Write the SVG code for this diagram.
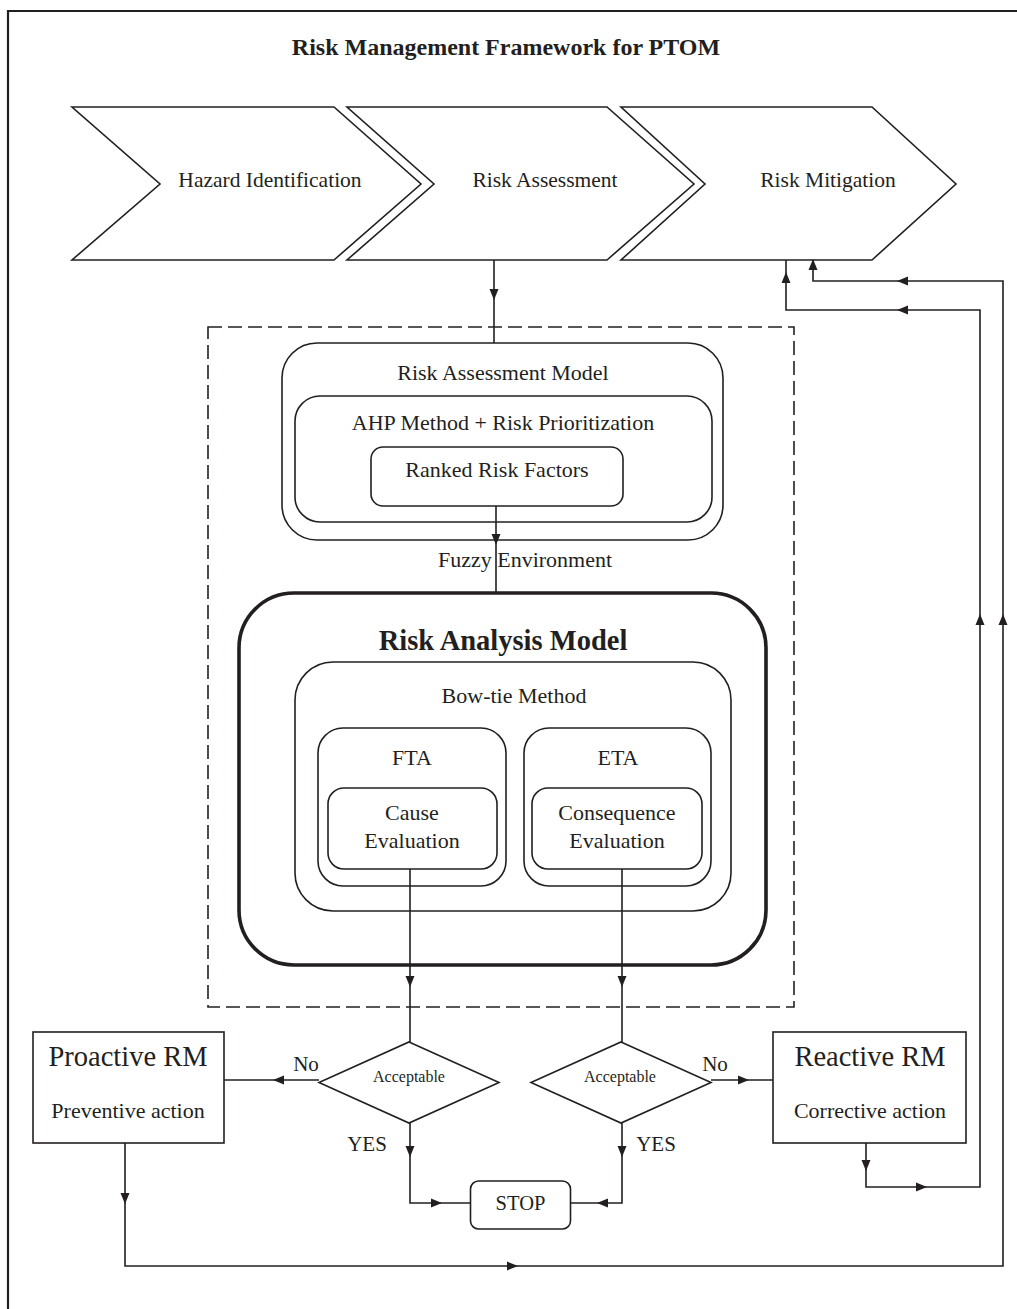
<svg xmlns="http://www.w3.org/2000/svg" xmlns:xlink="http://www.w3.org/1999/xlink" width="1017" height="1309" viewBox="0 0 1017 1309">
  <style>
    .ln { fill: none; stroke: #231f20; stroke-width: 1.6; }
    .box { fill: none; stroke: #231f20; stroke-width: 1.6; }
    .thick { fill: none; stroke: #231f20; stroke-width: 3.6; }
    .dash { fill: none; stroke: #231f20; stroke-width: 1.6; stroke-dasharray: 14 6; }
    .t { font-family: "Liberation Serif", "Times New Roman", serif; fill: #231f20; text-anchor: middle; }
    .ah { fill: #231f20; }
  </style>
  <defs>
    <!-- arrowhead pointing right, tip at origin -->
    <path id="ah" class="ah" d="M0,0 L-11,-4.5 L-11,4.5 Z"/>
  </defs>
  <rect width="1017" height="1309" fill="#ffffff"/>

  <!-- outer frame (open to the right and bottom) -->
  <path d="M8,1309 V11 H1017" fill="none" stroke="#231f20" stroke-width="2.2"/>

  <text class="t" x="506" y="55" font-size="24" font-weight="bold">Risk Management Framework for PTOM</text>

  <!-- process chevrons -->
  <g id="hazard-identification">
    <polygon class="box" points="72,107 334,107 421,184 334,260 72,260 160,184"/>
    <text class="t" x="270" y="187" font-size="21.5">Hazard Identification</text>
  </g>
  <g id="risk-assessment">
    <polygon class="box" points="347,107 607,107 694,184 607,260 347,260 434,184"/>
    <text class="t" x="545" y="187" font-size="21.5">Risk Assessment</text>
  </g>
  <g id="risk-mitigation">
    <polygon class="box" points="621,107 872,107 956,184 872,260 621,260 705,184"/>
    <text class="t" x="828" y="187" font-size="21.5">Risk Mitigation</text>
  </g>

  <!-- dashed boundary of the fuzzy environment -->
  <g id="fuzzy-environment">
    <rect class="dash" x="208" y="327" width="586" height="680"/>
    <text class="t" x="525" y="567" font-size="22">Fuzzy Environment</text>
  </g>

  <g id="risk-assessment-model">
    <rect class="box" x="282" y="343" width="441" height="197" rx="35"/>
    <text class="t" x="503" y="380" font-size="22">Risk Assessment Model</text>
  </g>
  <g id="ahp-method">
    <rect class="box" x="295" y="396" width="417" height="126" rx="25"/>
    <text class="t" x="503" y="430" font-size="22">AHP Method + Risk Prioritization</text>
  </g>
  <g id="ranked-risk-factors">
    <rect class="box" x="371" y="447" width="252" height="59" rx="12"/>
    <text class="t" x="497" y="477" font-size="22">Ranked Risk Factors</text>
  </g>

  <g id="risk-analysis-model">
    <rect class="thick" x="239" y="593" width="527" height="372" rx="55"/>
    <text class="t" x="503" y="650" font-size="28.5" font-weight="bold">Risk Analysis Model</text>
  </g>
  <g id="bow-tie-method">
    <rect class="box" x="295" y="662" width="436" height="249" rx="38"/>
    <text class="t" x="514" y="703" font-size="22">Bow-tie Method</text>
  </g>
  <g id="fta">
    <rect class="box" x="318" y="728" width="188" height="158" rx="25"/>
    <text class="t" x="412" y="765" font-size="22">FTA</text>
  </g>
  <g id="cause-evaluation">
    <rect class="box" x="328" y="788" width="169" height="81" rx="16"/>
    <text class="t" x="412" y="820" font-size="22">Cause</text>
    <text class="t" x="412" y="848" font-size="22">Evaluation</text>
  </g>
  <g id="eta">
    <rect class="box" x="524" y="728" width="187" height="158" rx="25"/>
    <text class="t" x="618" y="765" font-size="22">ETA</text>
  </g>
  <g id="consequence-evaluation">
    <rect class="box" x="532" y="788" width="170" height="81" rx="16"/>
    <text class="t" x="617" y="820" font-size="22">Consequence</text>
    <text class="t" x="617" y="848" font-size="22">Evaluation</text>
  </g>

  <g id="acceptable-left">
    <polygon class="box" points="409,1042 499,1082.5 409,1123 319,1082.5"/>
    <text class="t" x="409" y="1082" font-size="16">Acceptable</text>
  </g>
  <g id="acceptable-right">
    <polygon class="box" points="621,1042 711,1082.5 621,1123 531,1082.5"/>
    <text class="t" x="620" y="1082" font-size="16">Acceptable</text>
  </g>

  <g id="proactive-rm">
    <rect class="box" x="33" y="1032" width="191" height="111"/>
    <text class="t" x="128" y="1066" font-size="28.5">Proactive RM</text>
    <text class="t" x="128" y="1118" font-size="22">Preventive action</text>
  </g>
  <g id="reactive-rm">
    <rect class="box" x="773" y="1032" width="193" height="111"/>
    <text class="t" x="870" y="1066" font-size="28.5">Reactive RM</text>
    <text class="t" x="870" y="1118" font-size="22">Corrective action</text>
  </g>

  <g id="stop">
    <rect class="box" x="470.5" y="1181" width="100" height="48" rx="8"/>
    <text class="t" x="520.5" y="1210" font-size="20.5">STOP</text>
  </g>

  <!-- connectors -->
  <g id="connectors">
    <path class="ln" d="M494,260 V343"/>
    <use xlink:href="#ah" transform="translate(494,300) rotate(90)"/>

    <path class="ln" d="M496,506 V593"/>
    <use xlink:href="#ah" transform="translate(496,545) rotate(90)"/>

    <path class="ln" d="M410,869 V1042"/>
    <use xlink:href="#ah" transform="translate(410,987) rotate(90)"/>
    <path class="ln" d="M622,869 V1042"/>
    <use xlink:href="#ah" transform="translate(622,987) rotate(90)"/>

    <path class="ln" d="M319,1080 H224"/>
    <use xlink:href="#ah" transform="translate(273,1080) rotate(180)"/>
    <text class="t" x="306" y="1071" font-size="21">No</text>

    <path class="ln" d="M711,1080 H773"/>
    <use xlink:href="#ah" transform="translate(749,1080)"/>
    <text class="t" x="715" y="1071" font-size="21">No</text>

    <path class="ln" d="M410,1123 V1203 H470.5"/>
    <use xlink:href="#ah" transform="translate(410,1157) rotate(90)"/>
    <use xlink:href="#ah" transform="translate(442,1203)"/>
    <text class="t" x="367" y="1151" font-size="21">YES</text>

    <path class="ln" d="M622,1123 V1203 H570.5"/>
    <use xlink:href="#ah" transform="translate(622,1157) rotate(90)"/>
    <use xlink:href="#ah" transform="translate(597,1203) rotate(180)"/>
    <text class="t" x="656" y="1151" font-size="21">YES</text>

    <!-- proactive feedback loop to risk mitigation -->
    <path class="ln" d="M125,1143 V1266 H1003 V281 H813 V260"/>
    <use xlink:href="#ah" transform="translate(125,1204) rotate(90)"/>
    <use xlink:href="#ah" transform="translate(518,1266)"/>
    <use xlink:href="#ah" transform="translate(1003,614) rotate(-90)"/>
    <use xlink:href="#ah" transform="translate(897,281) rotate(180)"/>
    <use xlink:href="#ah" transform="translate(813,259) rotate(-90)"/>

    <!-- reactive feedback loop to risk mitigation -->
    <path class="ln" d="M866,1143 V1187 H980 V310 H786 V260"/>
    <use xlink:href="#ah" transform="translate(866,1171) rotate(90)"/>
    <use xlink:href="#ah" transform="translate(927,1187)"/>
    <use xlink:href="#ah" transform="translate(980,614) rotate(-90)"/>
    <use xlink:href="#ah" transform="translate(897,310) rotate(180)"/>
    <use xlink:href="#ah" transform="translate(786,272) rotate(-90)"/>
  </g>
</svg>
